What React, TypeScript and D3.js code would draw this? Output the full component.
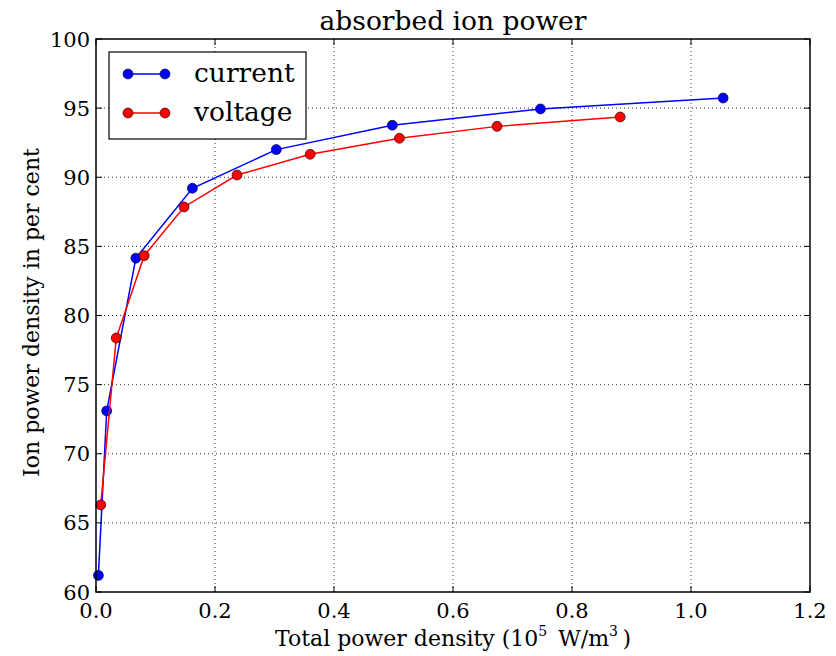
import React from "react";
import * as d3 from "d3";

const currentX = [0.004, 0.018, 0.067, 0.162, 0.303, 0.498, 0.747, 1.054];
const currentY = [61.2, 73.1, 84.15, 89.2, 92.0, 93.76, 94.94, 95.73];
const voltageX = [0.008, 0.034, 0.081, 0.148, 0.237, 0.36, 0.51, 0.674, 0.881];
const voltageY = [66.3, 78.37, 84.33, 87.85, 90.16, 91.66, 92.82, 93.68, 94.36];
const xTicks = [0, 0.2, 0.4, 0.6, 0.8, 1.0, 1.2];
const yTicks = [60, 65, 70, 75, 80, 85, 90, 95, 100];
const seriesNames = ["current", "voltage"];
const seriesColors = ["#0000ff", "#ff0000"];

const W = 836, H = 656;
const L = 96, R = 810, T = 39, B = 592;
const FONT = "'DejaVu Serif', serif";

export default function App() {
  const x = d3.scaleLinear().domain([0, 1.2]).range([L, R]);
  const y = d3.scaleLinear().domain([60, 100]).range([B, T]);
  const line = d3.line<[number, number]>().x(d => x(d[0])).y(d => y(d[1]));
  const series = [
    currentX.map((v, i) => [v, currentY[i]] as [number, number]),
    voltageX.map((v, i) => [v, voltageY[i]] as [number, number]),
  ];
  const tick = 6;
  return (
    <svg width={W} height={H} style={{ position: "absolute", left: 0, top: 0, background: "#fff" }} fontFamily={FONT}>
      <rect width={W} height={H} fill="#fff" />
      {/* grid */}
      {xTicks.slice(1, -1).map(t => (
        <line key={"gx" + t} x1={x(t)} x2={x(t)} y1={T} y2={B} stroke="#000" strokeWidth={0.8} strokeDasharray="1,3" />
      ))}
      {yTicks.slice(1, -1).map(t => (
        <line key={"gy" + t} x1={L} x2={R} y1={y(t)} y2={y(t)} stroke="#000" strokeWidth={0.8} strokeDasharray="1,3" />
      ))}
      {/* series */}
      {series.map((s, i) => (
        <g key={i}>
          <path d={line(s) || ""} fill="none" stroke={seriesColors[i]} strokeWidth={1.5} />
          {s.map((p, j) => (
            <circle key={j} cx={x(p[0])} cy={y(p[1])} r={5} fill={seriesColors[i]} stroke="#000" strokeWidth={0.6} />
          ))}
        </g>
      ))}
      {/* ticks */}
      {xTicks.map(t => (
        <g key={"tx" + t}>
          <line x1={x(t)} x2={x(t)} y1={B} y2={B - tick} stroke="#000" strokeWidth={1} />
          <line x1={x(t)} x2={x(t)} y1={T} y2={T + tick} stroke="#000" strokeWidth={1} />
          <text x={x(t)} y={B + 26} textAnchor="middle" fontSize={21}>{t.toFixed(1)}</text>
        </g>
      ))}
      {yTicks.map(t => (
        <g key={"ty" + t}>
          <line x1={L} x2={L + tick} y1={y(t)} y2={y(t)} stroke="#000" strokeWidth={1} />
          <line x1={R} x2={R - tick} y1={y(t)} y2={y(t)} stroke="#000" strokeWidth={1} />
          <text x={L - 6} y={y(t) + 7.5} textAnchor="end" fontSize={21}>{t}</text>
        </g>
      ))}
      <rect x={L} y={T} width={R - L} height={B - T} fill="none" stroke="#000" strokeWidth={1.5} />
      {/* title */}
      <text x={(L + R) / 2} y={30} textAnchor="middle" fontSize={26.5}>absorbed ion power</text>
      {/* axis labels */}
      <text x={(L + R) / 2} y={646} textAnchor="middle" fontSize={22}>
        Total power density (10<tspan fontSize={14} dy={-10}>5</tspan><tspan dy={10}>{"\u2002W/m"}</tspan><tspan fontSize={14} dy={-10}>3</tspan><tspan dy={10}>{"\u2009)"}</tspan>
      </text>
      <text transform={`translate(39, ${(T + B) / 2 - 3}) rotate(-90)`} textAnchor="middle" fontSize={22}>Ion power density in per cent</text>
      {/* legend */}
      <rect x={109} y={52} width={197} height={87} fill="#fff" stroke="#000" strokeWidth={1.2} />
      {seriesNames.map((n, i) => {
        const ly = 74 + i * 39;
        return (
          <g key={n}>
            <line x1={128} x2={165} y1={ly} y2={ly} stroke={seriesColors[i]} strokeWidth={1.5} />
            <circle cx={128} cy={ly} r={5} fill={seriesColors[i]} stroke="#000" strokeWidth={0.6} />
            <circle cx={165} cy={ly} r={5} fill={seriesColors[i]} stroke="#000" strokeWidth={0.6} />
            <text x={194} y={ly + 8} fontSize={26.5}>{n}</text>
          </g>
        );
      })}
    </svg>
  );
}
